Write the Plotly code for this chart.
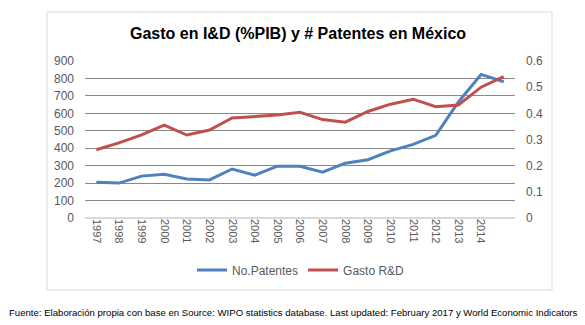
import plotly.graph_objects as go

years = [str(y) for y in range(1997, 2016)]
tick_labels = [str(y) for y in range(1997, 2015)]
patentes = [205, 200, 240, 251, 224, 218, 281, 245, 297, 297, 263, 314, 334, 385, 422, 474, 665, 823, 781]
gasto = [0.261, 0.287, 0.318, 0.355, 0.317, 0.336, 0.382, 0.389, 0.394, 0.404,
         0.376, 0.366, 0.407, 0.435, 0.454, 0.425, 0.432, 0.500, 0.540]

W, H = 585, 325
L, R, T, B = 85, 515, 61, 218  # plot area in pixels

def px(xp):
    return (xp - L) / (R - L)

def py(yp):
    return (B - yp) / (B - T)

font = "Liberation Sans, Arial"

fig = go.Figure()
fig.add_trace(go.Scatter(x=years, y=patentes, name="No.Patentes", mode="lines",
                         line=dict(color="#4F81BD", width=3), yaxis="y"))
fig.add_trace(go.Scatter(x=years, y=gasto, name="Gasto R&D", mode="lines",
                         line=dict(color="#C0504D", width=3), yaxis="y2"))

fig.update_layout(
    width=W, height=H,
    margin=dict(l=L, r=W - R, t=T, b=H - B),
    paper_bgcolor="white", plot_bgcolor="white",
    font=dict(family=font, color="#595959", size=12),
    showlegend=True,
    legend=dict(orientation="h", x=px(301), xanchor="center", y=py(270), yanchor="middle",
                font=dict(size=12, color="#595959"), itemwidth=30, traceorder="normal"),
    xaxis=dict(type="category", range=[-0.5, 18.5], tickmode="array",
               tickvals=tick_labels, ticktext=tick_labels, tickangle=90,
               showgrid=False, showline=False, ticks="", zeroline=False,
               tickfont=dict(size=11, color="#595959")),
    yaxis=dict(range=[0, 900], dtick=100, showgrid=True, gridcolor="#888888", gridwidth=1,
               zeroline=True, zerolinecolor="#d9d9d9", showline=False, ticks="",
               ticklabelstandoff=10, tickfont=dict(size=12, color="#595959")),
    yaxis2=dict(range=[0, 0.6], dtick=0.1, overlaying="y", side="right", showgrid=False,
                zeroline=False, showline=False, ticks="", ticklabelstandoff=10,
                tickfont=dict(size=12, color="#595959")),
    shapes=[dict(type="rect", xref="paper", yref="paper",
                 x0=px(47), x1=px(552), y0=py(12), y1=py(290),
                 line=dict(color="#d9d9d9", width=1), layer="below")],
    annotations=[
        dict(text="<b>Gasto en I&D (%PIB) y # Patentes en México</b>", xref="paper", yref="paper",
             x=px(298), y=py(33), xanchor="center", yanchor="middle", showarrow=False,
             font=dict(size=16, color="#000000", family=font)),
        dict(text="Fuente: Elaboración propia con base en Source: WIPO statistics database. Last updated: February 2017 y World Economic Indicators",
             xref="paper", yref="paper", x=px(7), y=py(312), xanchor="left", yanchor="middle",
             showarrow=False, font=dict(size=9.6, color="#000000", family=font)),
    ],
)

fig.write_html("out.html")
